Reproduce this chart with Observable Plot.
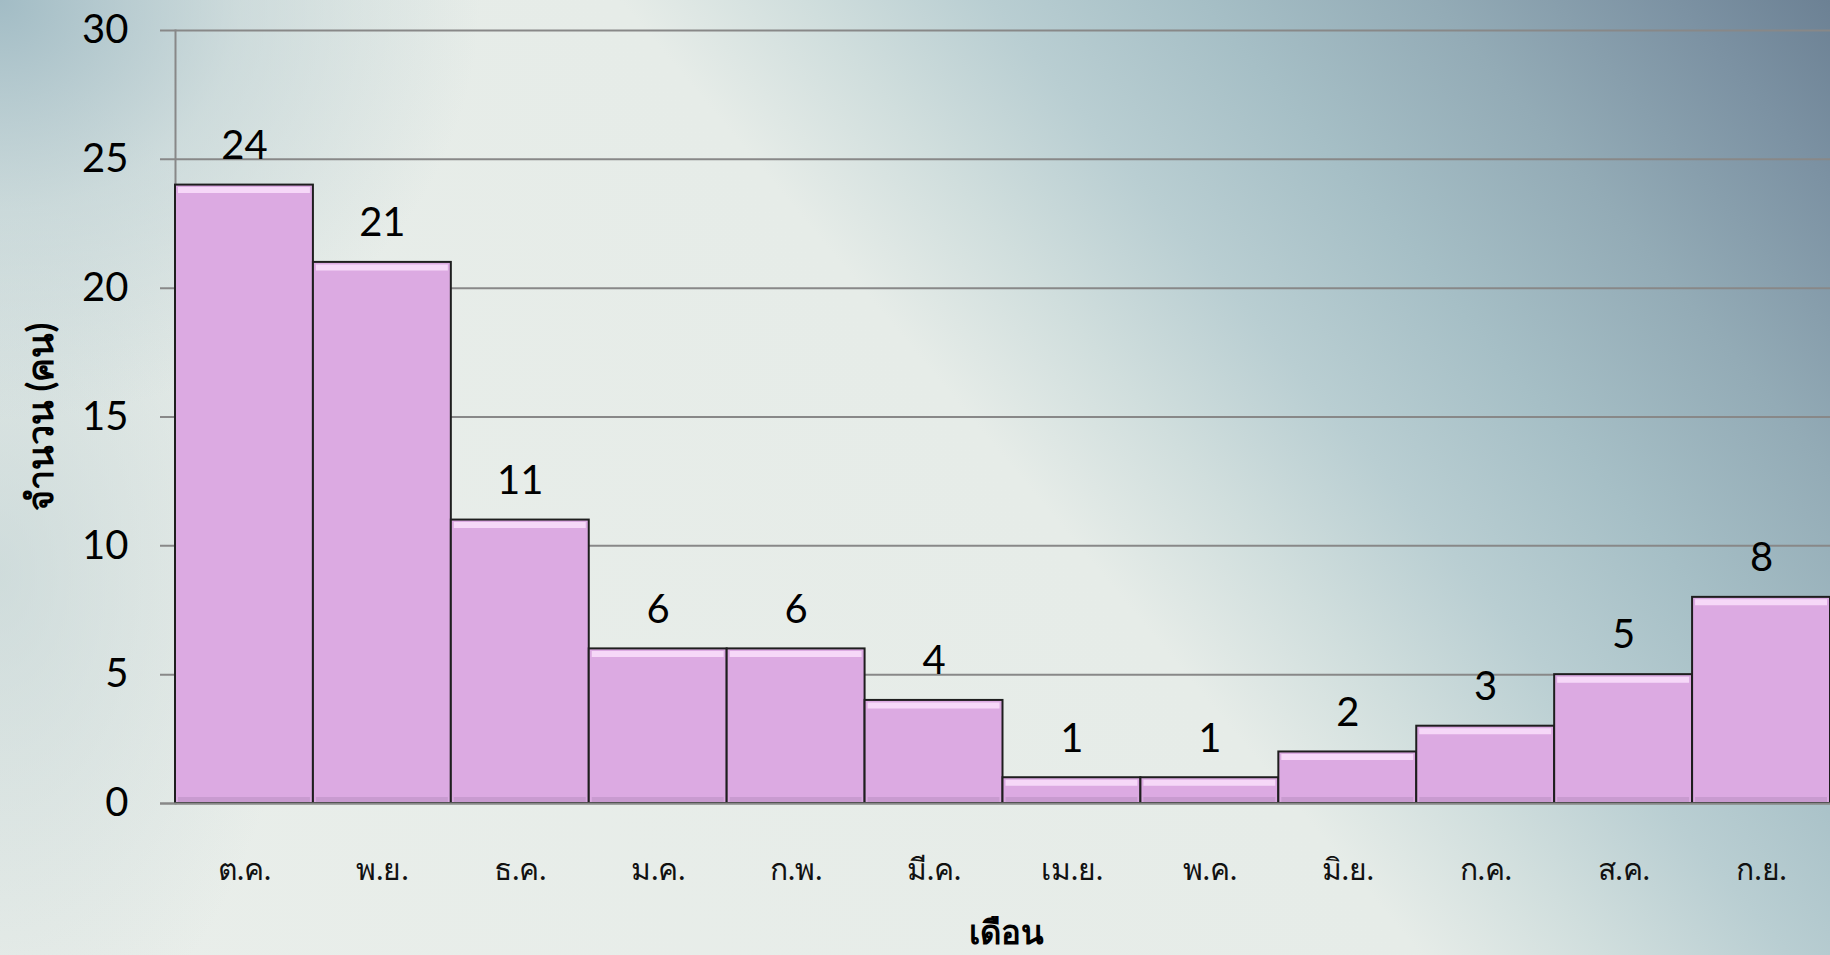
<!DOCTYPE html>
<html>
<head>
<meta charset="utf-8">
<script src="https://cdn.jsdelivr.net/npm/d3@7"></script>
<script src="https://cdn.jsdelivr.net/npm/@observablehq/plot@0.6"></script>
<style>
  html, body { margin: 0; padding: 0; }
  body {
    width: 1830px; height: 955px; overflow: hidden;
    background:
      radial-gradient(ellipse 480px 420px at 0% 0%, rgba(162,188,197,1) 0%, rgba(180,202,207,0.5) 50%, rgba(200,215,215,0) 100%),
      radial-gradient(ellipse 300px 500px at 0% 60%, rgba(190,208,210,0.6) 0%, rgba(190,208,210,0) 100%),
      linear-gradient(50deg, #e9eeea 0%, #e6ece8 54%, #d0dedd 61%, #b9ced2 68%, #a6bfc6 76%, #93abb6 85%, #7c92a3 94%, #6c8194 100%);
    font-family: Lato, "Noto Sans", sans-serif;
  }
  #chart svg { display: block; background: transparent; }
</style>
</head>
<body>
<div id="chart"></div>
<script>
const months = ["ต.ค.", "พ.ย.", "ธ.ค.", "ม.ค.", "ก.พ.", "มี.ค.", "เม.ย.", "พ.ค.", "มิ.ย.", "ก.ค.", "ส.ค.", "ก.ย."];
const counts = [24, 21, 11, 6, 6, 4, 1, 1, 2, 3, 5, 8];
const yTicks = [0, 5, 10, 15, 20, 25, 30];
const xTitle = "เดือน";
const yTitle = "จำนวน (คน)";

const data = months.map((m, i) => ({month: m, value: counts[i]}));

const chart = Plot.plot({
  width: 1830,
  height: 955,
  marginLeft: 175,
  marginRight: 0,
  marginTop: 30,
  marginBottom: 152,
  style: {background: "transparent", fontFamily: "Lato, 'Noto Sans', sans-serif", color: "#000"},
  x: {domain: months, padding: 0, round: false, label: null},
  y: {domain: [0, 30], label: null},
  marks: [
    Plot.ruleY(yTicks, {stroke: "#888", strokeWidth: 2, insetLeft: -15}),
    Plot.frame({anchor: "left", stroke: "#888", strokeWidth: 2}),
    Plot.axisY(yTicks, {tickSize: 0, tickPadding: 47, fontSize: 40, fill: "#000"}),
    Plot.axisX({tickSize: 0, tickPadding: 55, fontSize: 30, fill: "#111"}),
    Plot.barY(data, {x: "month", y: "value", fill: "#dcaae2", stroke: "#1e1e1e", strokeWidth: 2}),
    Plot.tickY(data, {x: "month", y: "value", stroke: "#f6d8f8", strokeWidth: 6, dy: 5, inset: 3}),
    Plot.tickY(data, {x: "month", y: 0, stroke: "#c99bd0", strokeWidth: 5, dy: -4, inset: 3}),
    Plot.ruleY([0], {stroke: "#888", strokeWidth: 2, insetLeft: -15}),
    Plot.text(data, {x: "month", y: "value", text: d => String(d.value), dy: -39, fontSize: 40, fill: "#000", lineAnchor: "middle"}),
    Plot.text([xTitle], {frameAnchor: "bottom", dx: 3, dy: 140, fontSize: 33, fontWeight: "bold", fill: "#000"}),
    Plot.text([yTitle], {frameAnchor: "left", dx: -134, rotate: -90, textAnchor: "middle", fontSize: 36, fontWeight: "bold", fill: "#000"})
  ]
});
document.getElementById("chart").appendChild(chart);
</script>
</body>
</html>
